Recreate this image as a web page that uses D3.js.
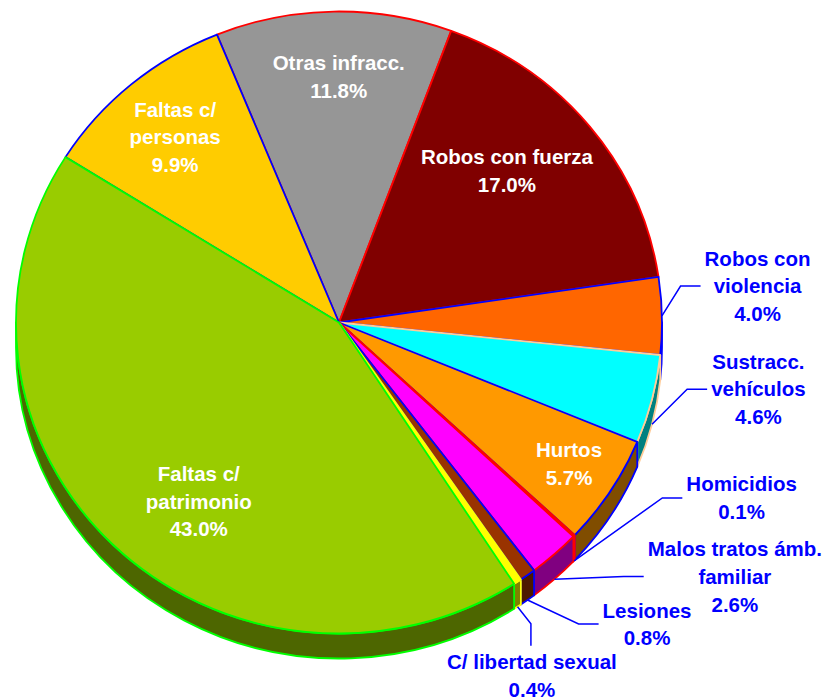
<!DOCTYPE html>
<html><head><meta charset="utf-8">
<script src="https://cdn.jsdelivr.net/npm/d3@7"></script>
<style>html,body{margin:0;padding:0;background:#fff;} svg{display:block;}</style>
</head><body><svg id="chart" width="829" height="700"></svg>
<script>
// ---------- data ----------
const categories = ["Otras infracc.", "Robos con fuerza", "Robos con violencia", "Sustracc. vehículos", "Hurtos", "Homicidios", "Malos tratos ámb. familiar", "Lesiones", "C/ libertad sexual", "Faltas c/ patrimonio", "Faltas c/ personas"];
const values = [11.8, 17.0, 4.0, 4.6, 5.7, 0.1, 2.6, 0.8, 0.4, 43.0, 9.9];
const labelLines = [["Otras infracc."], ["Robos con fuerza"], ["Robos con", "violencia"], ["Sustracc.", "vehículos"], ["Hurtos"], ["Homicidios"], ["Malos tratos ámb.", "familiar"], ["Lesiones"], ["C/ libertad sexual"], ["Faltas c/", "patrimonio"], ["Faltas c/", "personas"]];

// ---------- styles ----------
const fills = ["#969696", "#800000", "#FF6600", "#00FFFF", "#FF9900", "#FF0000", "#FF00FF", "#993300", "#FFFF00", "#99CC00", "#FFCC00"];
const borders = ["#FF0000", "#FF0000", "#0000FF", "#FFCC99", "#0000FF", "#FF0000", "#FF0000", "#0000FF", "#FFFF00", "#00FF00", "#0000FF"];
const topOrder = [0, 1, 2, 3, 4, 5, 6, 7, 8, 10, 9];
const sideOrder = [2, 3, 4, 5, 6, 7, 8, 9];

// ---------- layout ----------
const W = 829, H = 700;
const cx = 339, cy = 322.5, rx = 323, ry = 311, depth = 25;
const startDeg = -22.2;
const fontSize = 20.5, lineH = 27.7, capH = 0.716 * fontSize;
const insideNudge = {0: [3.7, -12.8], 1: [-20.2, -4.6], 4: [26.5, 14.5], 9: [30, 13], 10: [-8, -7]};
const outside = {
  2: {off: [95.6, -29.9], mode: "left"},
  3: {off: [106.4, -35.1], mode: "left"},
  5: {off: [167.5, -62.8], mode: "left"},
  6: {off: [180.4, -2.6], mode: "left"},
  7: {off: [119.5, 24], mode: "left"},
  8: {off: [14.4, 69.3], mode: "top"}
};

const svg = d3.select("#chart");
const rad = d => d * Math.PI / 180;
const pie = d3.pie().sort(null).value(d => d)
  .startAngle(rad(startDeg)).endAngle(rad(startDeg + 360));
const arcsData = pie(values);

const P = (t, z) => [cx + rx * Math.sin(t), cy - ry * Math.cos(t) + z];
const half = c => { const k = d3.rgb(c); return d3.rgb(Math.round(k.r / 2), Math.round(k.g / 2), Math.round(k.b / 2)).formatHex(); };

// ---------- sides ----------
const gSide = svg.append("g");
sideOrder.forEach(i => {
  const d = arcsData[i];
  const a = Math.max(d.startAngle, Math.PI / 2), b = Math.min(d.endAngle, 3 * Math.PI / 2);
  if (b <= a) return;
  const p1 = P(a, 0), p2 = P(b, 0), p3 = P(b, depth), p4 = P(a, depth);
  const path = `M${p1[0]},${p1[1]} A${rx},${ry} 0 0 1 ${p2[0]},${p2[1]} L${p3[0]},${p3[1]} A${rx},${ry} 0 0 0 ${p4[0]},${p4[1]} Z`;
  gSide.append("path").attr("d", path)
    .attr("fill", half(fills[i])).attr("stroke", borders[i])
    .attr("stroke-width", 1.8).attr("stroke-linejoin", "round");
});

// ---------- top faces ----------
const arc = d3.arc().innerRadius(0).outerRadius(rx);
const gTop = svg.append("g").attr("transform", `translate(${cx},${cy}) scale(1,${ry / rx})`);
topOrder.forEach(i => {
  gTop.append("path").attr("d", arc(arcsData[i]))
    .attr("fill", fills[i]).attr("stroke", borders[i])
    .attr("stroke-width", 1.8).attr("stroke-linejoin", "round")
    .attr("vector-effect", "non-scaling-stroke");
});

// ---------- labels ----------
const fmt = v => d3.format(".1f")(v) + "%";
const gLab = svg.append("g").attr("font-family", "'Liberation Sans', Arial, sans-serif")
  .attr("font-weight", "bold").attr("font-size", fontSize);

function drawBlock(lines, x, yc, color) {
  const n = lines.length;
  const bh = (n - 1) * lineH + capH;
  const y0 = yc - bh / 2 + capH;
  const t = gLab.append("text").attr("text-anchor", "middle").attr("fill", color);
  let maxW = 0;
  lines.forEach((s, k) => {
    const ts = t.append("tspan").attr("x", x).attr("y", y0 + k * lineH).text(s);
    maxW = Math.max(maxW, ts.node().getComputedTextLength());
  });
  return {maxW, top: yc - bh / 2};
}

arcsData.forEach((d, i) => {
  const mid = (d.startAngle + d.endAngle) / 2;
  const lines = labelLines[i].concat([fmt(values[i])]);
  if (insideNudge[i]) {
    const p = [cx + 0.75 * rx * Math.sin(mid), cy - 0.75 * ry * Math.cos(mid)];
    drawBlock(lines, p[0] + insideNudge[i][0], p[1] + insideNudge[i][1], "#FFFFFF");
  } else if (outside[i]) {
    const front = Math.cos(mid) < 0;
    const s = P(mid, front ? depth : 0);
    const o = outside[i];
    const lx = s[0] + o.off[0], ly = s[1] + o.off[1];
    const b = drawBlock(lines, lx, ly, "#0000FF");
    let pts;
    if (o.mode === "left") {
      const ex = lx - b.maxW / 2 - 4;
      pts = [s, [ex - 20, ly], [ex, ly]];
    } else {
      const ey = b.top - 9;
      pts = [s, [lx - 1, ey - 22], [lx - 1, ey]];
    }
    svg.append("path").attr("d", d3.line()(pts))
      .attr("fill", "none").attr("stroke", "#0000FF").attr("stroke-width", 1.5);
  }
});
</script>
</body></html>
